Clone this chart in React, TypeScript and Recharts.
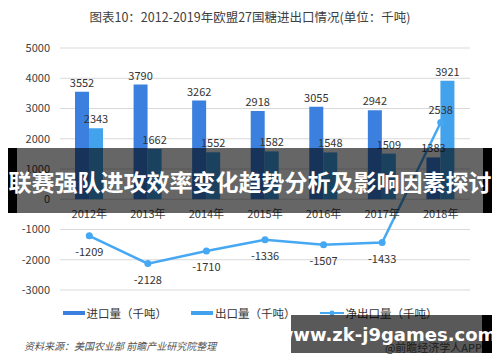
import React from 'react'
import {
  ComposedChart,
  Bar,
  Line,
  XAxis,
  YAxis,
  CartesianGrid,
  LabelList
} from 'recharts'

const years = ['2012年', '2013年', '2014年', '2015年', '2016年', '2017年', '2018年']
const imports = [3552, 3790, 3262, 2918, 3055, 2942, 1383]
const exports = [2343, 1662, 1552, 1582, 1548, 1509, 3921]
const netExports = [-1209, -2128, -1710, -1336, -1507, -1433, 2538]
const yTicks = [-3000, -2000, -1000, 0, 1000, 2000, 3000, 4000, 5000]

const data = years.map((year, i) => ({
  year,
  imp: imports[i],
  exp: exports[i],
  net: netExports[i]
}))

const FONT = '"Noto Sans CJK SC", "Noto Sans", sans-serif'
const IMP_COLOR = '#3b80de'
const EXP_COLOR = '#43a2ec'
const NET_COLOR = '#46a8f2'

const PLOT_TOP = 48
const PLOT_BOTTOM = 290
const ZERO_Y = PLOT_TOP + (5000 / 8000) * (PLOT_BOTTOM - PLOT_TOP)

// category labels sit on the zero line, not under the plot
// eslint-disable-next-line @typescript-eslint/no-explicit-any
const YearTick = (props: any) => {
  const { x, payload } = props
  return (
    <text x={x} y={ZERO_Y + 19} textAnchor="middle" fontSize={11} fill="#404040" fontFamily={FONT}>
      {payload.value}
    </text>
  )
}

// net line labels below the point, last one above
// eslint-disable-next-line @typescript-eslint/no-explicit-any
const NetLabel = (props: any) => {
  const { x, y, value, index } = props
  const above = index === netExports.length - 1
  return (
    <text
      x={x}
      y={above ? y - 8 : y + 20}
      textAnchor="middle"
      fontSize={11}
      fill="#333"
      fontFamily={FONT}
    >
      {value}
    </text>
  )
}

const legendItems = [
  { name: '进口量（千吨）', color: IMP_COLOR, type: 'bar' },
  { name: '出口量（千吨）', color: EXP_COLOR, type: 'bar' },
  { name: '净出口量（千吨）', color: NET_COLOR, type: 'line' }
]

export default function App() {
  return (
    <div style={{ position: 'absolute', left: 0, top: 0, width: 500, height: 362, background: '#fff', fontFamily: FONT, overflow: 'hidden' }}>
      <div style={{ position: 'absolute', top: 7, left: 0, width: 500, textAlign: 'center', fontSize: 12.5, color: '#404040' }}>
        图表10：2012-2019年欧盟27国糖进出口情况(单位：千吨)
      </div>

      <ComposedChart
        width={500}
        height={362}
        data={data}
        margin={{ top: PLOT_TOP, right: 30, left: 0, bottom: 362 - PLOT_BOTTOM - 20 }}
        barGap={0}
        barSize={14}
      >
        <CartesianGrid horizontal vertical={false} stroke="#d9d9d9" />
        <XAxis
          dataKey="year"
          axisLine={false}
          tickLine={false}
          height={20}
          tick={<YearTick />}
          interval={0}
        />
        <YAxis
          domain={[-3000, 5000]}
          ticks={yTicks}
          axisLine={false}
          tickLine={false}
          width={60}
          tick={{ fill: '#404040', fontSize: 11, fontFamily: FONT, dx: -2 }}
        />
        <Bar dataKey="imp" fill={IMP_COLOR} isAnimationActive={false}>
          <LabelList dataKey="imp" position="top" offset={5} fontSize={11} fill="#333" fontFamily={FONT} />
        </Bar>
        <Bar dataKey="exp" fill={EXP_COLOR} isAnimationActive={false}>
          <LabelList dataKey="exp" position="top" offset={5} fontSize={11} fill="#333" fontFamily={FONT} />
        </Bar>
        <Line
          dataKey="net"
          stroke={NET_COLOR}
          strokeWidth={2.5}
          dot={{ r: 3.5, fill: NET_COLOR, stroke: NET_COLOR, strokeWidth: 0 }}
          isAnimationActive={false}
        >
          <LabelList dataKey="net" content={<NetLabel />} />
        </Line>
      </ComposedChart>

      {/* legend */}
      <div style={{ position: 'absolute', top: 305, left: 0, width: 500, display: 'flex', justifyContent: 'center', fontSize: 11.5, color: '#333' }}>
        {legendItems.map((item) => (
          <div key={item.name} style={{ display: 'flex', alignItems: 'center', margin: '0 12px' }}>
            {item.type === 'bar' ? (
              <span style={{ display: 'inline-block', width: 22, height: 4, background: item.color, marginRight: 2 }} />
            ) : (
              <svg width={24} height={8} style={{ marginRight: 2 }}>
                <line x1={0} y1={4} x2={24} y2={4} stroke={item.color} strokeWidth={2} />
                <circle cx={12} cy={4} r={2.5} fill={item.color} />
              </svg>
            )}
            <span>{item.name}</span>
          </div>
        ))}
      </div>

      <div style={{ position: 'absolute', left: 24, top: 338, fontSize: 10, fontStyle: 'italic', color: '#555' }}>
        资料来源：美国农业部 前瞻产业研究院整理
      </div>
      <div style={{ position: 'absolute', right: 18, top: 339, fontSize: 11, color: '#555' }}>
        @前瞻经济学人APP
      </div>

      {/* overlay banner */}
      <div style={{ position: 'absolute', left: 8, top: 148, width: 484, height: 65, background: 'rgba(0,0,0,0.6)' }} />
      <div style={{ position: 'absolute', left: 8, top: 148, width: 9, height: 65, background: '#000' }} />
      <div style={{ position: 'absolute', left: 483, top: 148, width: 9, height: 65, background: '#000' }} />
      <div style={{ position: 'absolute', left: 0, top: 148, width: 500, height: 65, display: 'flex', alignItems: 'center', justifyContent: 'center', color: '#fff', fontWeight: 'bold', fontSize: 23, whiteSpace: 'nowrap' }}>
        联赛强队进攻效率变化趋势分析及影响因素探讨
      </div>

      {/* site box */}
      <div style={{ position: 'absolute', left: 291, top: 315, width: 191, height: 38, background: 'rgba(0,0,0,0.65)' }} />
      <div style={{ position: 'absolute', left: 482, top: 315, width: 10, height: 38, background: '#000' }} />
      <div style={{ position: 'absolute', left: 291, top: 315, width: 191, height: 38, display: 'flex', alignItems: 'center', justifyContent: 'center', color: '#fff', fontWeight: 'bold', fontSize: 18, fontFamily: '"DejaVu Sans", sans-serif', whiteSpace: 'nowrap' }}>
        www.zk-j9games.com
      </div>
    </div>
  )
}
